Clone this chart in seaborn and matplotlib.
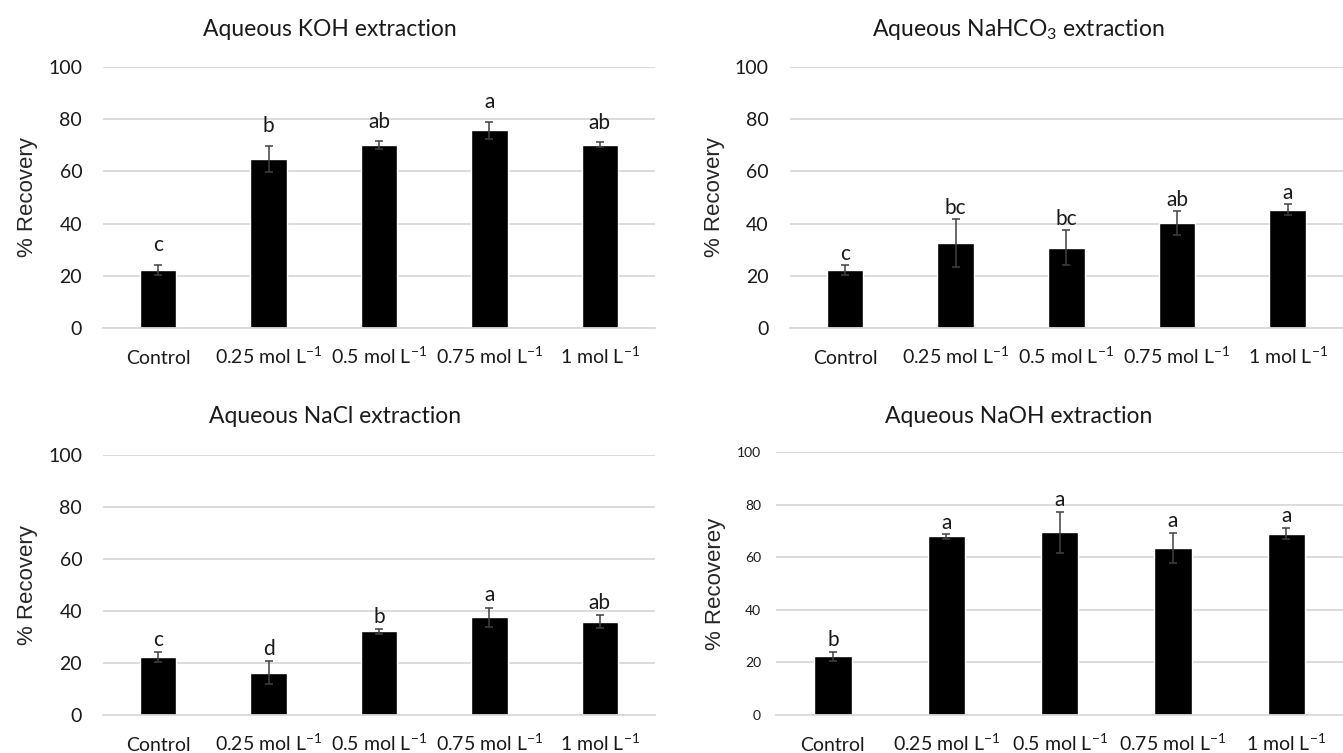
import matplotlib
matplotlib.use('Agg')
import matplotlib.pyplot as plt
import seaborn as sns
import pandas as pd

# Treatments (x axis)
treatments = ['Control', '0.25 mol L$^{-1}$', '0.5 mol L$^{-1}$',
              '0.75 mol L$^{-1}$', '1 mol L$^{-1}$']

# % Recovery, mean and error
koh_mean = [22.4, 64.6, 70.0, 75.7, 70.2]
koh_err = [1.9, 5.0, 1.5, 3.2, 0.9]
koh_letters = ['c', 'b', 'ab', 'a', 'ab']

nahco3_mean = [22.4, 32.5, 30.8, 40.1, 45.4]
nahco3_err = [1.9, 9.3, 6.8, 4.6, 2.1]
nahco3_letters = ['c', 'bc', 'bc', 'ab', 'a']

nacl_mean = [22.4, 16.3, 32.2, 37.5, 35.8]
nacl_err = [1.9, 4.3, 0.9, 3.8, 2.5]
nacl_letters = ['c', 'd', 'b', 'a', 'ab']

naoh_mean = [22.3, 67.9, 69.5, 63.5, 69.0]
naoh_err = [1.8, 0.8, 7.8, 5.7, 2.2]
naoh_letters = ['b', 'a', 'a', 'a', 'a']

sns.set_style('white')
plt.rcParams['font.family'] = ['Lato', 'DejaVu Sans']
plt.rcParams['mathtext.fontset'] = 'custom'
plt.rcParams['mathtext.rm'] = 'Lato'
plt.rcParams['mathtext.it'] = 'Lato:italic'
plt.rcParams['mathtext.bf'] = 'Lato:bold'

fig = plt.figure(figsize=(13.43, 7.53), dpi=100)

# rect, title, mean, err, letters, ylabel, tick size, title x, title pad, label x, letter offset
panels = [
    ([0.0767, 0.5644, 0.411, 0.3466], 'Aqueous KOH extraction',
     koh_mean, koh_err, koh_letters, '% Recovery', 14, 0.411, 22, -0.118, 10),
    ([0.588, 0.5644, 0.412, 0.3466], 'Aqueous NaHCO$_3$ extraction',
     nahco3_mean, nahco3_err, nahco3_letters, '% Recovery', 14, 0.414, 22, -0.116, 3.5),
    ([0.0767, 0.0505, 0.411, 0.3453], 'Aqueous NaCl extraction',
     nacl_mean, nacl_err, nacl_letters, '% Recovery', 14, 0.42, 23, -0.118, 4.5),
    ([0.578, 0.0505, 0.422, 0.3492], 'Aqueous NaOH extraction',
     naoh_mean, naoh_err, naoh_letters, '% Recoverey', 10, 0.428, 21, -0.088, 4),
]

for rect, title, mean, err, letters, ylabel, tsize, tx, tpad, lx, loff in panels:
    ax = fig.add_axes(rect)
    df = pd.DataFrame({'Treatment': treatments, 'Recovery': mean})
    sns.barplot(data=df, x='Treatment', y='Recovery', color='black',
                saturation=1, width=0.33, errorbar=None, ax=ax)
    ax.errorbar(range(len(mean)), mean, yerr=err, fmt='none',
                ecolor='#404040', elinewidth=1.1, capsize=3, capthick=1.1)
    for i, (m, e, lab) in enumerate(zip(mean, err, letters)):
        ax.annotate(lab, xy=(i, m + e), xytext=(0, loff),
                    textcoords='offset points', ha='center', va='baseline',
                    fontsize=15, color='#1a1a1a')

    ax.set_xlim(-0.5, len(treatments) - 0.5)
    ax.set_ylim(0, 100)
    ax.set_yticks([0, 20, 40, 60, 80, 100])
    ax.yaxis.grid(True, color='#d9d9d9', linewidth=1.3)
    ax.set_axisbelow(True)
    for s in ['top', 'right', 'left']:
        ax.spines[s].set_visible(False)
    ax.spines['bottom'].set_color('#d9d9d9')
    ax.spines['bottom'].set_linewidth(1.3)
    ax.tick_params(axis='y', length=0, labelsize=tsize,
                   pad=15 if tsize > 12 else 11, labelcolor='#1a1a1a')
    ax.tick_params(axis='x', length=0, labelsize=14, pad=26, labelcolor='#1a1a1a')
    for lbl in ax.get_xticklabels():
        lbl.set_verticalalignment('baseline')

    ax.set_xlabel('')
    ax.set_ylabel(ylabel, fontsize=16, family=['Liberation Sans', 'DejaVu Sans'])
    ax.yaxis.set_label_coords(lx, 0.5)
    ax.set_title(title, fontsize=16.5, x=tx, pad=tpad, color='#1a1a1a')

fig.savefig('out.png', dpi=100)
